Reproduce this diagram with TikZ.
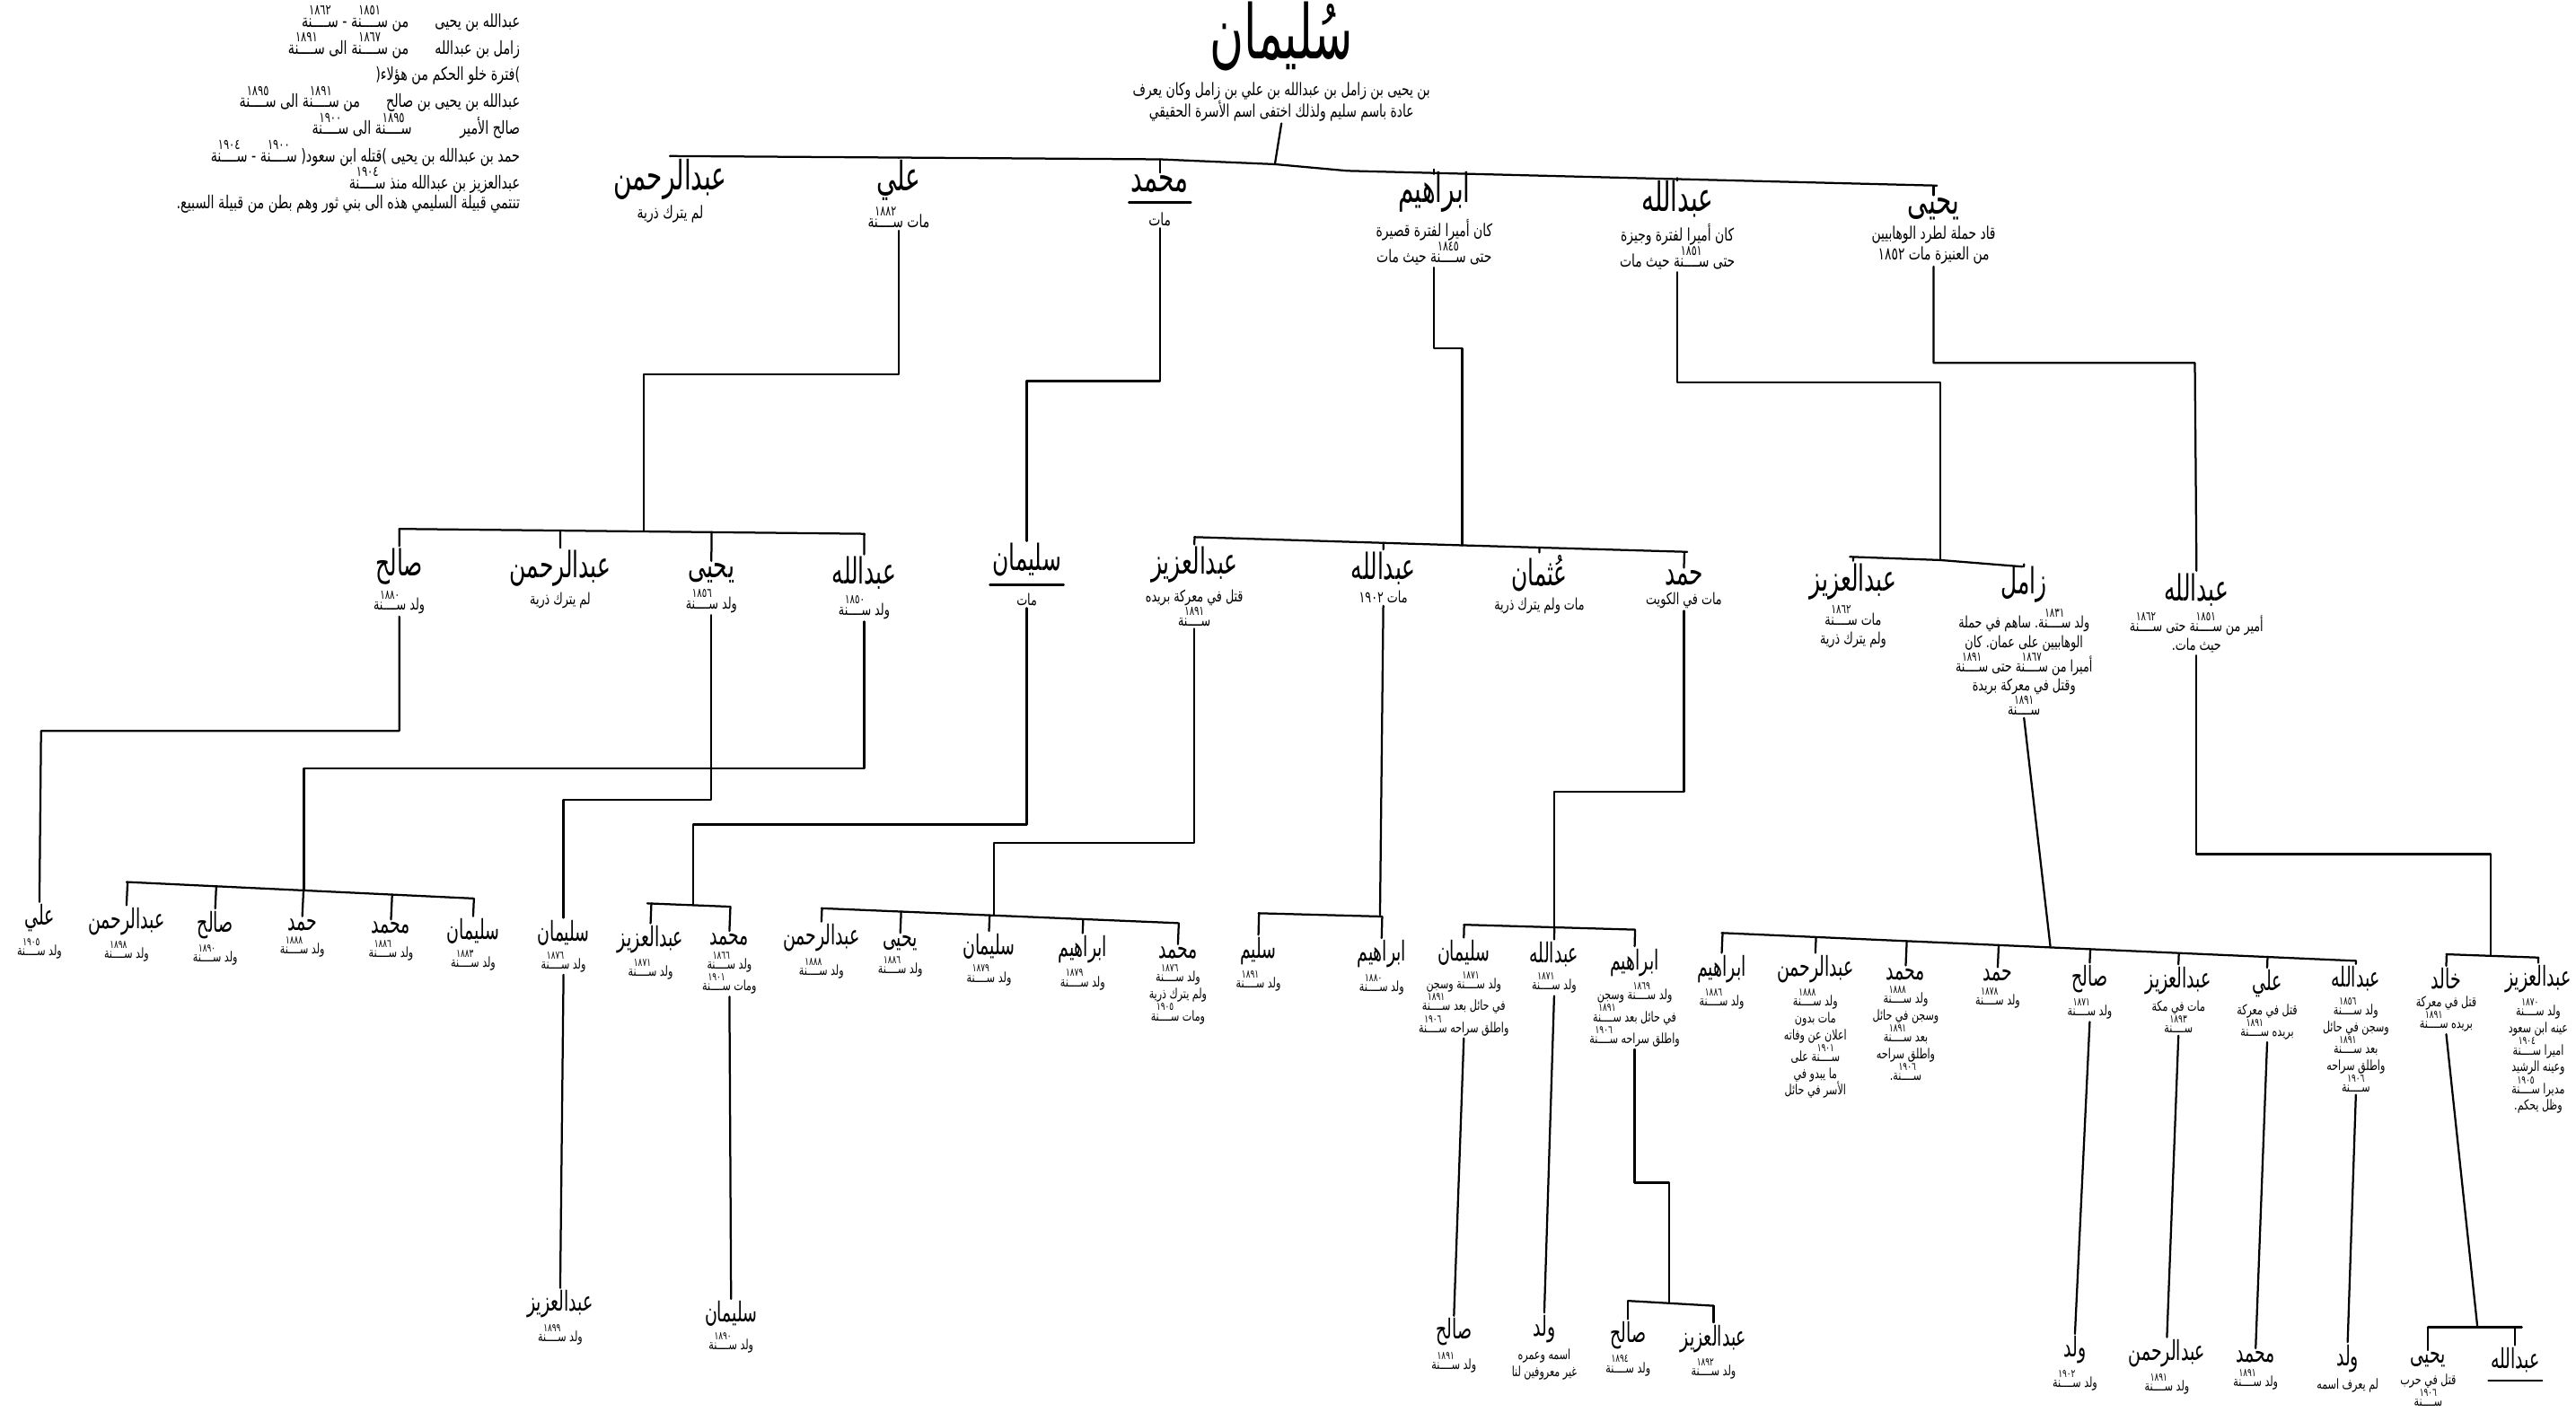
\documentclass[tikz,border=0pt]{standalone}
\usepackage{fontspec}
\usepackage{graphicx}
\usetikzlibrary{calc,positioning}
\TeXXeTstate=1
\lineskip=0.5pt
\newfontfamily\arabicfont[Script=Arabic,FakeStretch=0.72]{DejaVu Sans}
\newfontfamily\arabicname[Script=Arabic,FakeStretch=0.62]{DejaVu Sans}
\newcommand\rl[1]{\beginR#1\endR}
\makeatletter
% lines holding a year: the words are set in reverse order by hand
\newcommand\rs[1]{\rs@go{}#1 \@nil}
\def\rs@go#1#2 #3\@nil{\ifx\relax#3\relax\expandafter\@firstoftwo\else\expandafter\@secondoftwo\fi
  {#2 #1\unskip}{\rs@go{#2 #1}#3\@nil}}
\makeatother
\newcommand\sana[1]{\shortstack{\scalebox{0.8}{#1}\\[-2pt]ســــنة}}
\tikzset{
  nmA/.style={font=\arabicname\fontsize{14}{15}\selectfont,inner sep=0.5pt},
  nmB/.style={font=\arabicname\fontsize{12.5}{14}\selectfont,inner sep=0.5pt},
  nmC/.style={font=\arabicname\fontsize{9.5}{11}\selectfont,inner sep=0.5pt},
  ntA/.style={font=\arabicfont\fontsize{6}{7.2}\selectfont,align=center,inner sep=0.5pt},
  ntB/.style={font=\arabicfont\fontsize{5.5}{6.6}\selectfont,align=center,inner sep=0.5pt},
  ntC/.style={font=\arabicfont\fontsize{4.8}{5.8}\selectfont,align=center,inner sep=0.5pt},
}
\begin{document}
\begin{tikzpicture}[x=0.02cm,y=-0.02cm,line width=0.7pt,line cap=round,line join=round]
\useasboundingbox (0,0) rectangle (1568,865);
% rulers, top left
\node[ntA,font=\arabicfont\fontsize{6.2}{7}\selectfont,align=right,anchor=north east] (rulers) at (318,2) {%
\rs{عبدالله بن يحيى \quad{} من \sana{١٨٥١} - \sana{١٨٦٢}}\\
\rs{زامل بن عبدالله \quad{} من \sana{١٨٦٧} الى \sana{١٨٩١}}\\[2pt]
\mbox{(}\rl{فترة خلو الحكم من هؤلاء}\mbox{)}\quad\quad\\
\rs{عبدالله بن يحيى بن صالح \quad{} من \sana{١٨٩١} الى \sana{١٨٩٥}}\\
\rs{صالح الأمير \quad{} \quad{} \sana{١٨٩٥} الى \sana{١٩٠٠}}\quad\quad\\
\sana{١٩٠٤} - \sana{١٩٠٠} \mbox{(}\rl{قتله ابن سعود}\mbox{)} \rl{حمد بن عبدالله بن يحيى}\\
\rs{عبدالعزيز بن عبدالله منذ \sana{١٩٠٤}}\\
\rl{تنتمي قبيلة السليمي هذه الى بني ثور وهم بطن من قبيلة السبيع\mbox{.}}};
% Sulaiman
\node[font=\arabicname\fontsize{26}{28}\selectfont,inner sep=0pt] (sul) at (780,22) {\rl{سُليمان}};
\node[ntA,below=3pt of sul] (sult) {\rl{بن يحيى بن زامل بن عبدالله بن علي بن زامل وكان يعرف}\\\rl{عادة باسم سليم ولذلك اختفى اسم الأسرة الحقيقي}};
\draw (sult.south) -- (776,100);
\draw (408,95) -- (706,97) -- (776,100) -- (820,104) -- (1179,113);
% first generation
\node[nmA] (abrA) at (408,109) {\rl{عبدالرحمن}};
\node[ntA,below=0.5pt of abrA] (abrAt) {\rl{لم يترك ذرية}};
\node[nmA] (aliA) at (547,110) {\rl{علي}};
\node[ntA,below=0.5pt of aliA] (aliAt) {\rs{مات \sana{١٨٨٢}}};
\node[nmA] (muhA) at (706,112) {\rl{محمد}};
\node[ntA,below=5pt of muhA] (muhAt) {\rl{مات}};
\draw ([yshift=-2.5pt]muhA.south west) -- ([yshift=-2.5pt]muhA.south east);
\node[nmA] (ibrA) at (873,117) {\rl{ابراهيم}};
\node[ntA,below=0.5pt of ibrA] (ibrAt) {\rl{كان أميرا لفترة قصيرة}\\\rs{حتى \sana{١٨٤٥} حيث مات}};
\node[nmA] (abdA) at (1021,121) {\rl{عبدالله}};
\node[ntA,below=0.5pt of abdA] (abdAt) {\rl{كان أميرا لفترة وجيزة}\\\rs{حتى \sana{١٨٥١} حيث مات}};
\node[nmA] (yahA) at (1177,127) {\rl{يحيى}};
\node[ntA,below=0.5pt of yahA] (yahAt) {\rl{قاد حملة لطرد الوهابيين}\\\rl{من العنيزة مات ١٨٥٢}};
\draw (abrA.north) -- (abrA.north |- 0,95);
\draw (aliA.north) -- (aliA.north |- 0,96);
\draw (muhA.north) -- (muhA.north |- 0,97);
\draw (ibrA.north) -- (ibrA.north |- 0,106);
\draw (abdA.north) -- (abdA.north |- 0,110);
\draw (yahA.north) -- (yahA.north |- 0,113);
% second generation
\node[nmB] (salB) at (243,345) {\rl{صالح}};
\node[ntB,below=0.5pt of salB] (salBt) {\rs{ولد \sana{١٨٨٠}}};
\node[nmB] (abrB) at (341,346) {\rl{عبدالرحمن}};
\node[ntB,below=0.5pt of abrB] (abrBt) {\rl{لم يترك ذرية}};
\node[nmB] (yahB) at (433,349) {\rl{يحيى}};
\node[ntB,below=0.5pt of yahB] (yahBt) {\rs{ولد \sana{١٨٥٦}}};
\node[nmB] (abdB) at (526,349) {\rl{عبدالله}};
\node[ntB,below=0.5pt of abdB] (abdBt) {\rs{ولد \sana{١٨٥٠}}};
\node[nmB] (sulB) at (625,341) {\rl{سليمان}};
\node[ntB,below=4pt of sulB] (sulBt) {\rl{مات}};
\draw ([yshift=-2pt]sulB.south west) -- ([yshift=-2pt]sulB.south east);
\node[nmB] (azizB) at (727,344) {\rl{عبدالعزيز}};
\node[ntB,below=0.5pt of azizB] (azizBt) {\rl{قتل في معركة بريده}\\\sana{١٨٩١}};
\node[nmB] (abdB2) at (842,346) {\rl{عبدالله}};
\node[ntB,below=0.5pt of abdB2] (abdB2t) {\rl{مات ١٩٠٢}};
\node[nmB] (uthB) at (937,349) {\rl{عُثمان}};
\node[ntB,below=0.5pt of uthB] (uthBt) {\rl{مات ولم يترك ذرية}};
\node[nmB] (hamB) at (1025,352) {\rl{حمد}};
\node[ntB,below=0.5pt of hamB] (hamBt) {\rl{مات في الكويت}};
\node[nmB] (azizB2) at (1128,354) {\rl{عبدالعزيز}};
\node[ntB,below=0.5pt of azizB2] (azizB2t) {\rs{مات \sana{١٨٦٢}}\\\rl{ولم يترك ذرية}};
\node[nmB] (zamB) at (1232,356) {\rl{زامل}};
\node[ntB,below=0.5pt of zamB] (zamBt) {\rs{ولد \mbox{.}\sana{١٨٣١} ساهم في حملة}\\\rl{الوهابيين على عمان\mbox{.} كان}\\\rs{أميرا من \sana{١٨٦٧} حتى \sana{١٨٩١}}\\\rl{وقتل في معركة بريدة}\\\sana{١٨٩١}};
\node[nmB] (abdB3) at (1337,359) {\rl{عبدالله}};
\node[ntB,below=0.5pt of abdB3] (abdB3t) {\rs{أمير من \sana{١٨٥١} حتى \sana{١٨٦٢}}\\\rl{حيث مات\mbox{.}}};
\draw (aliAt.south) |- (392,228) -- (392,323);
\draw (muhAt.south) |- (625,232) -- (sulB.north);
\draw (ibrAt.south) |- (890,212) -- (890,332);
\draw (abdAt.south) |- (1181,233) -- (1181,341);
\draw (yahAt.south) |- (1336,221) -- (abdB3.north);
\draw (243,322) -- (526,325);
\draw (727,327) -- (890,332) -- (1027,336);
\draw (1126,339) -- (1181,341) -- (1231,345);
\foreach \c in {salB,abrB,yahB,abdB}
  \draw (\c.north) -- ($(243,322)!(\c.north)!(526,325)$);
\foreach \c in {azizB,abdB2,uthB,hamB}
  \draw (\c.north) -- ($(727,327)!(\c.north)!(1027,336)$);
\foreach \c in {azizB2,zamB}
  \draw (\c.north) -- ($(1126,339)!(\c.north)!(1231,345)$);
% third generation
\node[nmC] (aliC) at (24,559) {\rl{علي}};
\node[ntC,below=0.5pt of aliC] (aliCt) {\rs{ولد \sana{١٩٠٥}}};
\node[nmC] (abrC) at (77,561) {\rl{عبدالرحمن}};
\node[ntC,below=0.5pt of abrC] (abrCt) {\rs{ولد \sana{١٨٩٨}}};
\node[nmC] (salC) at (131,563) {\rl{صالح}};
\node[ntC,below=0.5pt of salC] (salCt) {\rs{ولد \sana{١٨٩٠}}};
\node[nmC] (hamC) at (184,563) {\rl{حمد}};
\node[ntC,below=0.5pt of hamC] (hamCt) {\rs{ولد \sana{١٨٨٨}}};
\node[nmC] (muhC) at (238,565) {\rl{محمد}};
\node[ntC,below=0.5pt of muhC] (muhCt) {\rs{ولد \sana{١٨٨٦}}};
\node[nmC] (sulC) at (288,567) {\rl{سليمان}};
\node[ntC,below=0.5pt of sulC] (sulCt) {\rs{ولد \sana{١٨٨٣}}};
\node[nmC] (sulC2) at (343,568) {\rl{سليمان}};
\node[ntC,below=0.5pt of sulC2] (sulC2t) {\rs{ولد \sana{١٨٧٦}}};
\node[nmC] (azizC) at (396,572) {\rl{عبدالعزيز}};
\node[ntC,below=0.5pt of azizC] (azizCt) {\rs{ولد \sana{١٨٧١}}};
\node[nmC] (muhC2) at (444,572) {\rl{محمد}};
\node[ntC,below=0.5pt of muhC2] (muhC2t) {\rs{ولد \sana{١٨٦٦}}\\\rs{ومات \sana{١٩٠١}}};
\node[nmC] (abrC2) at (500,571) {\rl{عبدالرحمن}};
\node[ntC,below=0.5pt of abrC2] (abrC2t) {\rs{ولد \sana{١٨٨٨}}};
\node[nmC] (yahC) at (548,574) {\rl{يحيى}};
\node[ntC,below=0.5pt of yahC] (yahCt) {\rs{ولد \sana{١٨٨٦}}};
\node[nmC] (sulC3) at (602,576) {\rl{سليمان}};
\node[ntC,below=0.5pt of sulC3] (sulC3t) {\rs{ولد \sana{١٨٧٩}}};
\node[nmC] (ibrC) at (659,578) {\rl{ابراهيم}};
\node[ntC,below=0.5pt of ibrC] (ibrCt) {\rs{ولد \sana{١٨٧٩}}};
\node[nmC] (muhC3) at (717,580) {\rl{محمد}};
\node[ntC,below=0.5pt of muhC3] (muhC3t) {\rs{ولد \sana{١٨٧٦}}\\\rl{ولم يترك ذرية}\\\rs{ومات \sana{١٩٠٥}}};
\node[nmC] (salmC) at (766,579) {\rl{سليم}};
\node[ntC,below=0.5pt of salmC] (salmCt) {\rs{ولد \sana{١٨٩١}}};
\node[nmC] (ibrC2) at (841,581) {\rl{ابراهيم}};
\node[ntC,below=0.5pt of ibrC2] (ibrC2t) {\rs{ولد \sana{١٨٨٠}}};
\node[nmC] (sulC4) at (891,580) {\rl{سليمان}};
\node[ntC,below=0.5pt of sulC4] (sulC4t) {\rs{ولد \sana{١٨٧١} وسجن}\\\rs{في حائل بعد \sana{١٨٩١}}\\\rs{واطلق سراحه \sana{١٩٠٦}}};
\node[nmC] (abdC) at (946,581) {\rl{عبدالله}};
\node[ntC,below=0.5pt of abdC] (abdCt) {\rs{ولد \sana{١٨٧١}}};
\node[nmC] (ibrC3) at (995,586) {\rl{ابراهيم}};
\node[ntC,below=0.5pt of ibrC3] (ibrC3t) {\rs{ولد \sana{١٨٦٩} وسجن}\\\rs{في حائل بعد \sana{١٨٩١}}\\\rs{واطلق سراحه \sana{١٩٠٦}}};
\node[nmC] (ibrC4) at (1048,590) {\rl{ابراهيم}};
\node[ntC,below=0.5pt of ibrC4] (ibrC4t) {\rs{ولد \sana{١٨٨٦}}};
\node[nmC] (abrC3) at (1105,590) {\rl{عبدالرحمن}};
\node[ntC,below=0.5pt of abrC3] (abrC3t) {\rs{ولد \sana{١٨٨٨}}\\\rl{مات بدون}\\\rl{اعلان عن وفاته}\\\rs{\sana{١٩٠١} على}\\\rl{ما يبدو في}\\\rl{الأسر في حائل}};
\node[nmC] (muhC4) at (1160,593) {\rl{محمد}};
\node[ntC,below=0.5pt of muhC4] (muhC4t) {\rs{ولد \sana{١٨٨٨}}\\\rl{وسجن في حائل}\\\rs{بعد \sana{١٨٩١}}\\\rl{واطلق سراحه}\\\rs{\mbox{.}\sana{١٩٠٦}}};
\node[nmC] (hamC2) at (1216,594) {\rl{حمد}};
\node[ntC,below=0.5pt of hamC2] (hamC2t) {\rs{ولد \sana{١٨٧٨}}};
\node[nmC] (salC2) at (1272,596) {\rl{صالح}};
\node[ntC,below=0.5pt of salC2] (salC2t) {\rs{ولد \sana{١٨٧١}}};
\node[nmC] (azizC2) at (1326,597) {\rl{عبدالعزيز}};
\node[ntC,below=0.5pt of azizC2] (azizC2t) {\rl{مات في مكة}\\\sana{١٨٩٣}};
\node[nmC] (aliC2) at (1380,599) {\rl{علي}};
\node[ntC,below=0.5pt of aliC2] (aliC2t) {\rl{قتل في معركة}\\\rs{بريده \sana{١٨٩١}}};
\node[nmC] (abdC2) at (1434,596) {\rl{عبدالله}};
\node[ntC,below=0.5pt of abdC2] (abdC2t) {\rs{ولد \sana{١٨٥٦}}\\\rl{وسجن في حائل}\\\rs{بعد \sana{١٨٩١}}\\\rl{واطلق سراحه}\\\sana{١٩٠٦}};
\node[nmC] (khaC) at (1489,596) {\rl{خالد}};
\node[ntC,below=0.5pt of khaC] (khaCt) {\rl{قتل في معركة}\\\rs{بريده \sana{١٨٩١}}};
\node[nmC] (azizC3) at (1545,596) {\rl{عبدالعزيز}};
\node[ntC,below=0.5pt of azizC3] (azizC3t) {\rs{ولد \sana{١٨٧٠}}\\\rl{عينه ابن سعود}\\\rs{اميرا \sana{١٩٠٤}}\\\rl{وعينه الرشيد}\\\rs{مديرا \sana{١٩٠٥}}\\\rl{وظل يحكم\mbox{.}}};
\draw (salBt.south) |- (25,445) -- (aliC.north);
\draw (yahBt.south) |- (343,487) -- (sulC2.north);
\draw (abdBt.south) |- (185,468) -- (185,542);
\draw (sulBt.south) |- (422,502) -- (422,551);
\draw (azizBt.south) |- (605,513) -- (605,557);
\draw (abdB2t.south) -- (840,557);
\draw (hamBt.south) |- (946,482) -- (946,564);
\draw (zamBt.south) -- (1248,576);
\draw (abdB3t.south) |- (1516,520) -- (1516,582);
\draw (77,537) -- (288,547);
\draw (394,550) -- (444,552);
\draw (500,553) -- (717,562);
\draw (766,556) -- (841,558);
\draw (891,563) -- (995,566);
\draw (1048,568) -- (1434,585);
\draw (1489,581) -- (1545,583);
\foreach \c in {abrC,salC,hamC,muhC,sulC}
  \draw (\c.north) -- ($(77,537)!(\c.north)!(288,547)$);
\foreach \c in {azizC,muhC2}
  \draw (\c.north) -- ($(394,550)!(\c.north)!(444,552)$);
\foreach \c in {abrC2,yahC,sulC3,ibrC,muhC3}
  \draw (\c.north) -- ($(500,553)!(\c.north)!(717,562)$);
\foreach \c in {salmC,ibrC2}
  \draw (\c.north) -- ($(766,556)!(\c.north)!(841,558)$);
\foreach \c in {sulC4,abdC,ibrC3}
  \draw (\c.north) -- ($(891,563)!(\c.north)!(995,566)$);
\foreach \c in {ibrC4,abrC3,muhC4,hamC2,salC2,azizC2,aliC2,abdC2}
  \draw (\c.north) -- ($(1048,568)!(\c.north)!(1434,585)$);
\foreach \c in {khaC,azizC3}
  \draw (\c.north) -- ($(1489,581)!(\c.north)!(1545,583)$);
% fourth generation
\node[nmC] (azizD) at (341,794) {\rl{عبدالعزيز}};
\node[ntC,below=0.5pt of azizD] (azizDt) {\rs{ولد \sana{١٨٩٩}}};
\node[nmC] (sulD) at (445,800) {\rl{سليمان}};
\node[ntC,below=0.5pt of sulD] (sulDt) {\rs{ولد \sana{١٨٩٠}}};
\node[nmC] (salD) at (885,811) {\rl{صالح}};
\node[ntC,below=0.5pt of salD] (salDt) {\rs{ولد \sana{١٨٩١}}};
\node[nmC] (walD) at (940,809) {\rl{ولد}};
\node[ntC,below=0.5pt of walD] (walDt) {\rl{اسمه وعمره}\\\rl{غير معروفين لنا}};
\node[nmC] (salD2) at (991,813) {\rl{صالح}};
\node[ntC,below=0.5pt of salD2] (salD2t) {\rs{ولد \sana{١٨٩٤}}};
\node[nmC] (azizD2) at (1043,815) {\rl{عبدالعزيز}};
\node[ntC,below=0.5pt of azizD2] (azizD2t) {\rs{ولد \sana{١٨٩٢}}};
\node[nmC] (walD2) at (1263,822) {\rl{ولد}};
\node[ntC,below=0.5pt of walD2] (walD2t) {\rs{ولد \sana{١٩٠٢}}};
\node[nmC] (abrD) at (1319,824) {\rl{عبدالرحمن}};
\node[ntC,below=0.5pt of abrD] (abrDt) {\rs{ولد \sana{١٨٩١}}};
\node[nmC] (muhD) at (1373,826) {\rl{محمد}};
\node[ntC,below=0.5pt of muhD] (muhDt) {\rs{ولد \sana{١٨٩١}}};
\node[nmC] (walD3) at (1429,827) {\rl{ولد}};
\node[ntC,below=0.5pt of walD3] (walD3t) {\rl{لم يعرف اسمه}};
\node[nmC] (yahD) at (1478,828) {\rl{يحيى}};
\node[ntC,below=0.5pt of yahD] (yahDt) {\rl{قتل في حرب}\\\sana{١٩٠٦}};
\node[nmC] (abdD) at (1531,828) {\rl{عبدالله}};
\draw ([yshift=-2pt]abdD.south west) -- ([yshift=-2pt]abdD.south east);
\draw (sulC2t.south) -- (azizD.north);
\draw (muhC2t.south) -- (sulD.north);
\draw (sulC4t.south) -- (salD.north);
\draw (abdCt.south) -- (walD.north);
\draw (ibrC3t.south) |- (1016,720) -- (1016,793);
\draw (991,792) -- (1043,795);
\draw (salD2.north) -- (salD2.north |- 0,792);
\draw (azizD2.north) -- (azizD2.north |- 0,795);
\draw (salC2t.south) -- (walD2.north);
\draw (azizC2t.south) -- (abrD.north);
\draw (aliC2t.south) -- (muhD.north);
\draw (abdC2t.south) -- (walD3.north);
\draw (khaCt.south) -- (1508,808);
\draw (1478,808) -- (1535,808);
\draw (yahD.north) -- (yahD.north |- 0,808);
\draw (abdD.north) -- (abdD.north |- 0,808);
\end{tikzpicture}
\end{document}
